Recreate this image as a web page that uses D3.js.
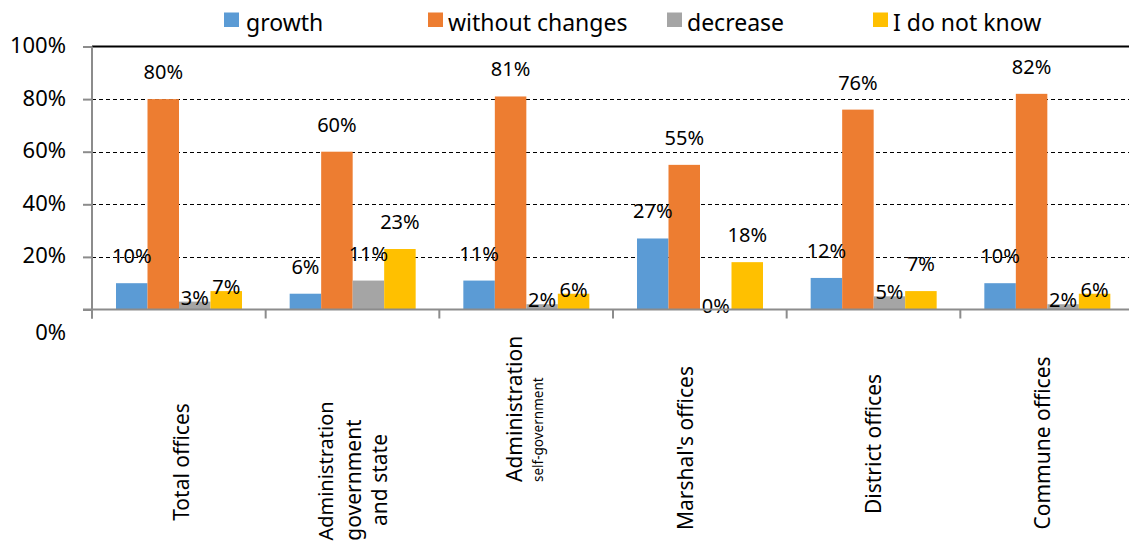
<!DOCTYPE html>
<html>
<head>
<meta charset="utf-8">
<script src="https://cdn.jsdelivr.net/npm/d3@7"></script>
<style>
  body { margin: 0; background: #fff; }
  svg { display: block; font-family: "Noto Sans", sans-serif; }
</style>
</head>
<body>
<div id="block"></div>
<script>
// data
var categories = ["Total offices", "Administration government and state", "Administration self-government",
                  "Marshal's offices", "District offices", "Commune offices"];
var seriesNames = ["growth", "without changes", "decrease", "I do not know"];
var growth = [10, 6, 11, 27, 12, 10];
var withoutChanges = [80, 60, 81, 55, 76, 82];
var decrease = [3, 11, 2, 0, 5, 2];
var dontKnow = [7, 23, 6, 18, 7, 6];
var yTicks = [0, 20, 40, 60, 80, 100];

var colors = ["#5B9BD5", "#ED7D31", "#A5A5A5", "#FFC000"];
var values = [growth, withoutChanges, decrease, dontKnow];

// labels that sit right on top of their bar (category index - series index)
var nearTop = ["0-2", "0-3", "2-2", "2-3", "3-2", "4-2", "5-2", "5-3"];

// x label layout: [text, x offset from band centre, font size, optional y], anchor y, text-anchor
var xLabelLayout = [
    {lines: [["Total offices", 3, 21]], y: 462, anchor: "middle"},
    {lines: [["Administration", -27, 20, 471], ["government", 1, 21], ["and state", 27, 21]], y: 480, anchor: "middle"},
    {lines: [["Administration", -12, 21], ["self-government", 12, 13.5]], y: 482, anchor: "start"},
    {lines: [["Marshal's offices", -14, 21]], y: 448, anchor: "middle"},
    {lines: [["District offices", 0, 21]], y: 444, anchor: "middle"},
    {lines: [["Commune offices", -5, 21]], y: 443, anchor: "middle"}
];
var legendX = [224, 428, 667, 873];

// dimensions
var svg_dx = 1129, svg_dy = 543;
var chartLeft = 92, chartRight = 1134, chartTop = 46.5, chartBottom = 309.5;

var svg = d3.select("#block").append("svg")
            .attr("width", svg_dx)
            .attr("height", svg_dy);

var xScale = d3.scaleBand().domain(d3.range(categories.length)).range([chartLeft, chartRight]);
var x1 = d3.scaleBand().domain(d3.range(seriesNames.length)).range([24, 150]);
var yScale = d3.scaleLinear().domain([0, 100]).range([chartBottom, chartTop]);

// gridlines (snapped to half pixels so the dashes stay crisp)
function crisp(v) { return Math.round(v) + 0.5; }
svg.append("g").selectAll("line")
   .data(yTicks.filter(function(t) { return t > 0; }))
   .enter().append("line")
   .attr("x1", chartLeft).attr("x2", svg_dx)
   .attr("y1", function(d) { return d === 100 ? yScale(d) : crisp(yScale(d)); })
   .attr("y2", function(d) { return d === 100 ? yScale(d) : crisp(yScale(d)); })
   .attr("stroke", "#000")
   .attr("stroke-width", function(d) { return d === 100 ? 2 : 1; })
   .attr("stroke-dasharray", function(d) { return d === 100 ? null : "4,3"; });

// bars
var groups = svg.append("g").selectAll("g")
    .data(categories)
    .enter().append("g")
    .attr("transform", function(d, i) { return "translate(" + xScale(i) + ",0)"; });

groups.selectAll("rect")
    .data(function(d, i) { return values.map(function(v, s) { return {s: s, c: i, v: v[i]}; }); })
    .enter().append("rect")
    .attr("x", function(d) { return x1(d.s); })
    .attr("width", x1.bandwidth())
    .attr("y", function(d) { return yScale(d.v); })
    .attr("height", function(d) { return yScale(0) - yScale(d.v); })
    .attr("fill", function(d) { return colors[d.s]; });

// axes
var yAxis = d3.axisLeft(yScale).tickValues(yTicks).tickSize(9).tickFormat(function(d) { return d + "%"; });
var y_axis = svg.append("g").attr("transform", "translate(" + chartLeft + ",0)").call(yAxis);
y_axis.select(".domain").remove();
y_axis.selectAll(".tick line").attr("stroke", "#8c8c8c").attr("stroke-width", 2);
y_axis.selectAll(".tick text")
      .attr("x", -26)
      .attr("dy", function(d) { return d === 0 ? 30 : 6; })
      .attr("font-size", 22)
      .attr("font-family", "Noto Sans")
      .attr("fill", "#000");

svg.append("line")
   .attr("x1", chartLeft).attr("x2", chartLeft)
   .attr("y1", chartTop).attr("y2", chartBottom + 9)
   .attr("stroke", "#8c8c8c").attr("stroke-width", 2);
svg.append("line")
   .attr("x1", chartLeft - 9).attr("x2", svg_dx)
   .attr("y1", chartBottom).attr("y2", chartBottom)
   .attr("stroke", "#8c8c8c").attr("stroke-width", 2);

svg.append("g").selectAll("line")
   .data(d3.range(categories.length + 1))
   .enter().append("line")
   .attr("x1", function(i) { return chartLeft + i * xScale.step(); })
   .attr("x2", function(i) { return chartLeft + i * xScale.step(); })
   .attr("y1", chartBottom).attr("y2", chartBottom + 9)
   .attr("stroke", "#8c8c8c").attr("stroke-width", 2);

// data labels
groups.selectAll("text.val")
    .data(function(d, i) { return values.map(function(v, s) { return {s: s, c: i, v: v[i]}; }); })
    .enter().append("text")
    .attr("class", "val")
    .attr("x", function(d) { return x1(d.s) + x1.bandwidth() / 2; })
    .attr("y", function(d) {
        var near = nearTop.indexOf(d.c + "-" + d.s) >= 0;
        return yScale(d.v) + (near ? -4 : -27) + 7;
    })
    .attr("text-anchor", "middle")
    .attr("font-size", 20)
    .text(function(d) { return d.v + "%"; });

// category labels
xLabelLayout.forEach(function(l, i) {
    var cx = xScale(i) + xScale.bandwidth() / 2;
    l.lines.forEach(function(line) {
        var ly = line[3] || l.y;
        svg.append("text")
           .attr("transform", "translate(" + (cx + line[1]) + "," + ly + ") rotate(-90)")
           .attr("text-anchor", l.anchor)
           .attr("dy", "0.35em")
           .attr("font-size", line[2])
           .text(line[0]);
    });
});

// legend
var legend = svg.append("g").selectAll("g")
    .data(seriesNames)
    .enter().append("g")
    .attr("transform", function(d, i) { return "translate(" + legendX[i] + ",0)"; });
legend.append("rect")
    .attr("x", 0).attr("y", 12.5).attr("width", 15).attr("height", 14.5)
    .attr("fill", function(d, i) { return colors[i]; });
legend.append("text")
    .attr("x", function(d, i) { return i === 0 ? 22 : 20; })
    .attr("y", 31)
    .attr("font-size", 23)
    .text(function(d) { return d; });
</script>
</body>
</html>
